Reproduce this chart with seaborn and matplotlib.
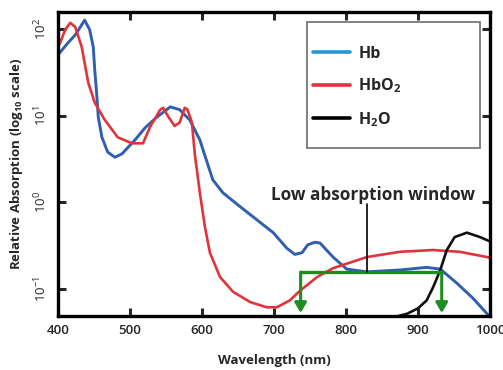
import numpy as np
import pandas as pd
import matplotlib
matplotlib.use("Agg")
import matplotlib.pyplot as plt
from matplotlib.lines import Line2D
from matplotlib.patches import Rectangle
import seaborn as sns

# ---------------- data ----------------
hb_wl = [400, 403, 414, 424, 437, 444, 449, 451, 454, 456, 461, 469, 479, 489, 507, 521,
         537, 556, 569, 583, 597, 606, 615, 629, 653, 676, 699, 718, 729, 739, 747, 757,
         764, 782, 801, 829, 875, 912, 931, 954, 976, 996, 1000]
hb_abs = [50, 53.7, 69.2, 85.1, 125.9, 97.7, 61.7, 33.9, 16.6, 9.55, 5.62, 3.80, 3.31,
          3.63, 5.25, 7.24, 9.55, 12.6, 11.7, 8.91, 5.25, 3.09, 1.82, 1.29, 0.891, 0.631,
          0.447, 0.295, 0.251, 0.263, 0.324, 0.347, 0.339, 0.234, 0.170, 0.158, 0.166,
          0.178, 0.170, 0.117, 0.079, 0.052, 0.048]

hbo2_wl = [400, 403, 410, 417, 424, 433, 442, 451, 465, 483, 503, 518, 528, 542, 546, 553,
           562, 569, 576, 580, 586, 590, 593, 597, 604, 611, 625, 643, 667, 690, 704, 722,
           736, 760, 782, 829, 875, 921, 958, 996, 1000]
hbo2_abs = [63, 69.2, 97.7, 117.5, 104.7, 61.7, 24.0, 14.1, 8.91, 5.62, 4.79, 4.79, 7.41,
            11.7, 12.3, 9.77, 7.59, 8.32, 12.3, 11.7, 8.32, 3.6, 2.34, 1.29, 0.525, 0.263,
            0.138, 0.0933, 0.0708, 0.0617, 0.0617, 0.0741, 0.0955, 0.138, 0.174, 0.234,
            0.269, 0.282, 0.269, 0.234, 0.229]

h2o_wl = [845, 865, 885, 900, 912, 921, 931, 940, 951, 968, 986, 1000]
h2o_abs = [0.035, 0.047, 0.052, 0.060, 0.074, 0.105, 0.166, 0.282, 0.398, 0.447, 0.398, 0.355]

series_names = ["Hb", "HbO$_{\\mathregular{2}}$", "H$_{\\mathregular{2}}$O"]
x_ticks = [400, 500, 600, 700, 800, 900, 1000]
y_ticks = [0.1, 1, 10, 100]
y_tick_labels = ["$10^{-1}$", "$10^{0}$", "$10^{1}$", "$10^{2}$"]
window_nm = [737, 933]

# ---------------- style ----------------
sns.set_style("ticks")
plt.rcParams["font.family"] = ["Open Sans", "DejaVu Sans"]
plt.rcParams["mathtext.fontset"] = "custom"
plt.rcParams["mathtext.rm"] = "Open Sans"
plt.rcParams["mathtext.it"] = "Open Sans"

line_blue = "#2f5fae"
leg_blue = "#2498d6"
red = "#e0343c"
green = "#1e8c1e"

fig = plt.figure(figsize=(5.03, 3.70), dpi=100)
ax = fig.add_axes([0.1153, 0.146, 0.8588, 0.822])

kw = dict(solid_joinstyle="round", solid_capstyle="round")
sns.lineplot(x=hb_wl, y=hb_abs, ax=ax, color=line_blue, lw=2.1, legend=False, **kw)
sns.lineplot(x=hbo2_wl, y=hbo2_abs, ax=ax, color=red, lw=1.9, legend=False, **kw)
sns.lineplot(x=h2o_wl, y=h2o_abs, ax=ax, color="#111111", lw=1.9, legend=False, **kw)

ax.set_yscale("log")
ax.set_xlim(400, 1000)
ax.set_ylim(10 ** -1.31, 10 ** 2.196)

ax.set_xticks(x_ticks)
ax.set_xticklabels([str(t) for t in x_ticks], fontsize=9.5, fontweight="semibold")
ax.set_yticks(y_ticks)
ax.set_yticklabels(y_tick_labels, fontsize=9.5, rotation=90, va="center")
ax.yaxis.set_minor_locator(matplotlib.ticker.NullLocator())
ax.tick_params(axis="both", which="major", direction="in", length=6, width=2.2,
               top=True, right=True, pad=6)

for s in ax.spines.values():
    s.set_linewidth(2.4)
    s.set_color("black")

ax.set_xlabel("Wavelength (nm)", fontsize=9.5, fontweight="bold", labelpad=12)
ax.set_ylabel("Relative Absorption (log$_{\\mathregular{10}}$ scale)", fontsize=9.5,
              fontweight="bold", labelpad=6)

# low absorption window bracket
y_top = 0.157
y_tip = 0.053
ax.plot(window_nm, [y_top, y_top], color=green, lw=2.4, solid_capstyle="projecting")
for xw in window_nm:
    ax.annotate("", xy=(xw, y_tip), xytext=(xw, y_top),
                arrowprops=dict(arrowstyle="-|>,head_length=0.6,head_width=0.35",
                                color=green, lw=2.2, shrinkA=0, shrinkB=0))
ax.plot([829, 829], [y_top, 0.95], color="black", lw=1.2)
ax.text(838, 1.22, "Low absorption window", ha="center", va="center",
        fontsize=12.3, fontweight="bold")

# legend: frame drawn as a rectangle, entries as a frameless legend
ax.add_patch(Rectangle((0.576, 0.553), 0.401, 0.414, transform=ax.transAxes,
                       facecolor="white", edgecolor="#777777", lw=1.3, zorder=4))
handles = [Line2D([], [], color=leg_blue, lw=2.6),
           Line2D([], [], color=red, lw=2.6),
           Line2D([], [], color="black", lw=2.6)]
leg = ax.legend(handles, series_names, loc="upper left",
                bbox_to_anchor=(0.590, 0.888), frameon=False,
                handlelength=2.35, handletextpad=0.5, labelspacing=0.92,
                borderpad=0, borderaxespad=0,
                prop={"weight": "bold", "size": 11.5})
leg.set_zorder(5)

fig.savefig("out.png", dpi=100)
